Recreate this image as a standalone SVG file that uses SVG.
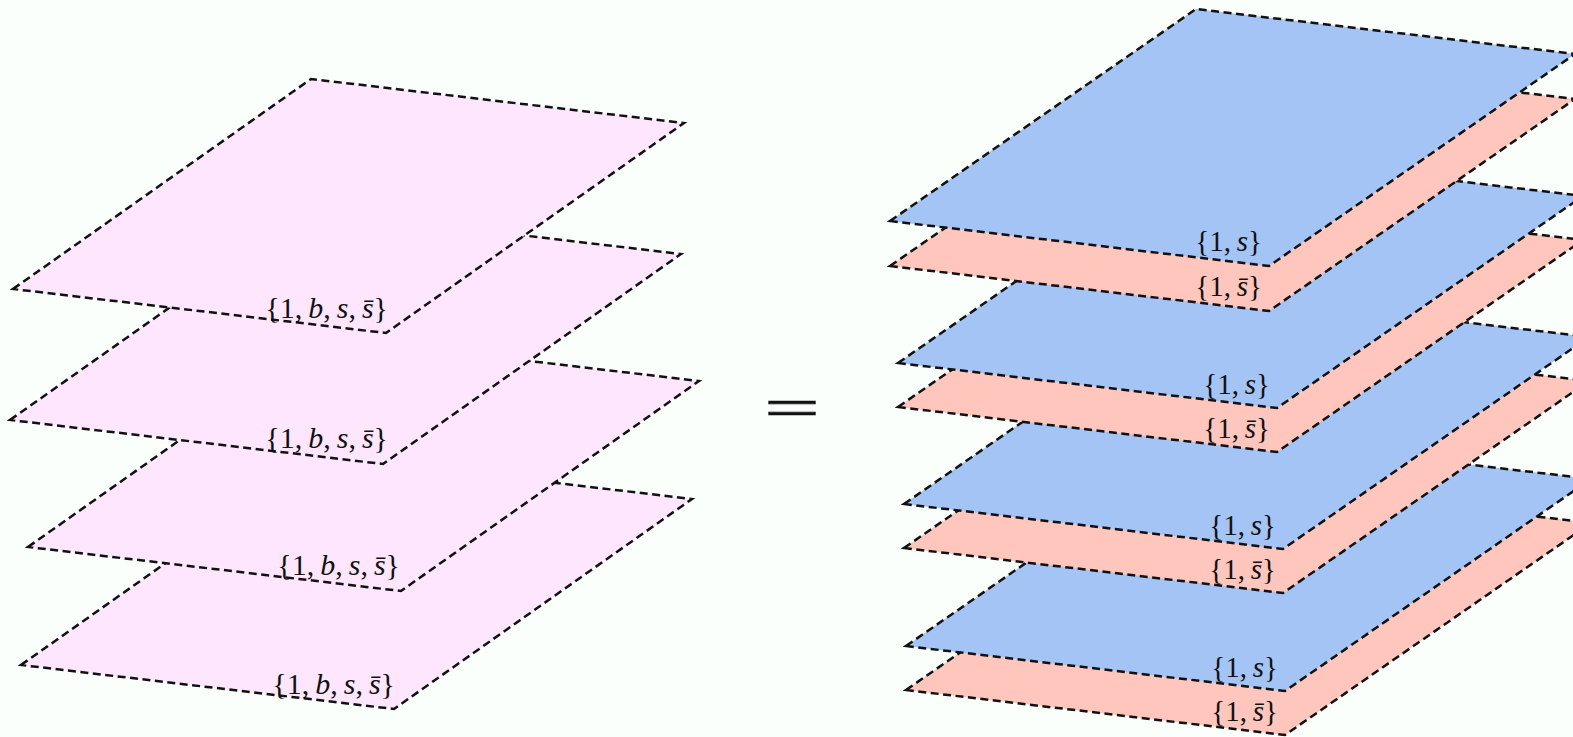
<svg xmlns="http://www.w3.org/2000/svg" width="1573" height="737" viewBox="0 0 1573 737">
<style>
.pl{stroke:#111;stroke-width:2.5;stroke-dasharray:8 4.5;stroke-linejoin:miter}
.mag{fill:#FFE6FF}
.blu{fill:#A3C4F5}
.sal{fill:#FFC6BD}
.lb{font-family:"Liberation Serif","DejaVu Serif",serif;font-size:30px;fill:#111;text-anchor:end}
.lr{font-size:29px}
.it{font-style:italic}
</style>
<rect width="1573" height="737" fill="#FAFFFB"/>
<g id="left-plane-4"><polygon class="pl mag" points="21,665 319,455 692,499 394,709"/><text class="lb" x="395" y="694">{1,&#8201;<tspan class="it">b</tspan>,&#8201;<tspan class="it">s</tspan>,&#8201;<tspan class="it">s&#772;</tspan>}</text></g>
<g id="left-plane-3"><polygon class="pl mag" points="28,547 326,337 699,381 401,591"/><text class="lb" x="400" y="575">{1,&#8201;<tspan class="it">b</tspan>,&#8201;<tspan class="it">s</tspan>,&#8201;<tspan class="it">s&#772;</tspan>}</text></g>
<g id="left-plane-2"><polygon class="pl mag" points="10,420 308,210 681,254 383,464"/><text class="lb" x="388" y="448">{1,&#8201;<tspan class="it">b</tspan>,&#8201;<tspan class="it">s</tspan>,&#8201;<tspan class="it">s&#772;</tspan>}</text></g>
<g id="left-plane-1"><polygon class="pl mag" points="13,289 311,79 684,123 386,333"/><text class="lb" x="388" y="318">{1,&#8201;<tspan class="it">b</tspan>,&#8201;<tspan class="it">s</tspan>,&#8201;<tspan class="it">s&#772;</tspan>}</text></g>
<g id="equals"><text transform="matrix(1.24,0,0,0.72,792,427)" x="0" y="0" style="font-family:'Liberation Serif',serif;font-size:80px;fill:#111;stroke:#111;stroke-width:1;text-anchor:middle">=</text></g>
<g id="right-pink-4"><polygon class="pl sal" points="906,690 1212,478 1591,523 1285,735"/><text class="lb lr" x="1278" y="721">{1,&#8201;<tspan class="it">s&#772;</tspan>}</text></g>
<g id="right-blue-4"><polygon class="pl blu" points="906,646 1212,434 1591,479 1285,691"/><text class="lb lr" x="1278" y="677">{1,&#8201;<tspan class="it">s</tspan>}</text></g>
<g id="right-pink-3"><polygon class="pl sal" points="904,548 1210,336 1589,381 1283,593"/><text class="lb lr" x="1276" y="579">{1,&#8201;<tspan class="it">s&#772;</tspan>}</text></g>
<g id="right-blue-3"><polygon class="pl blu" points="904,504 1210,292 1589,337 1283,549"/><text class="lb lr" x="1276" y="535">{1,&#8201;<tspan class="it">s</tspan>}</text></g>
<g id="right-pink-2"><polygon class="pl sal" points="898,407 1204,195 1583,240 1277,452"/><text class="lb lr" x="1270" y="438">{1,&#8201;<tspan class="it">s&#772;</tspan>}</text></g>
<g id="right-blue-2"><polygon class="pl blu" points="898,363 1204,151 1583,196 1277,408"/><text class="lb lr" x="1270" y="394">{1,&#8201;<tspan class="it">s</tspan>}</text></g>
<g id="right-pink-1"><polygon class="pl sal" points="890,266 1196,54 1575,99 1269,311"/><text class="lb lr" x="1262" y="296">{1,&#8201;<tspan class="it">s&#772;</tspan>}</text></g>
<g id="right-blue-1"><polygon class="pl blu" points="890,221 1196,9 1575,54 1269,266"/><text class="lb lr" x="1262" y="251">{1,&#8201;<tspan class="it">s</tspan>}</text></g>
</svg>
